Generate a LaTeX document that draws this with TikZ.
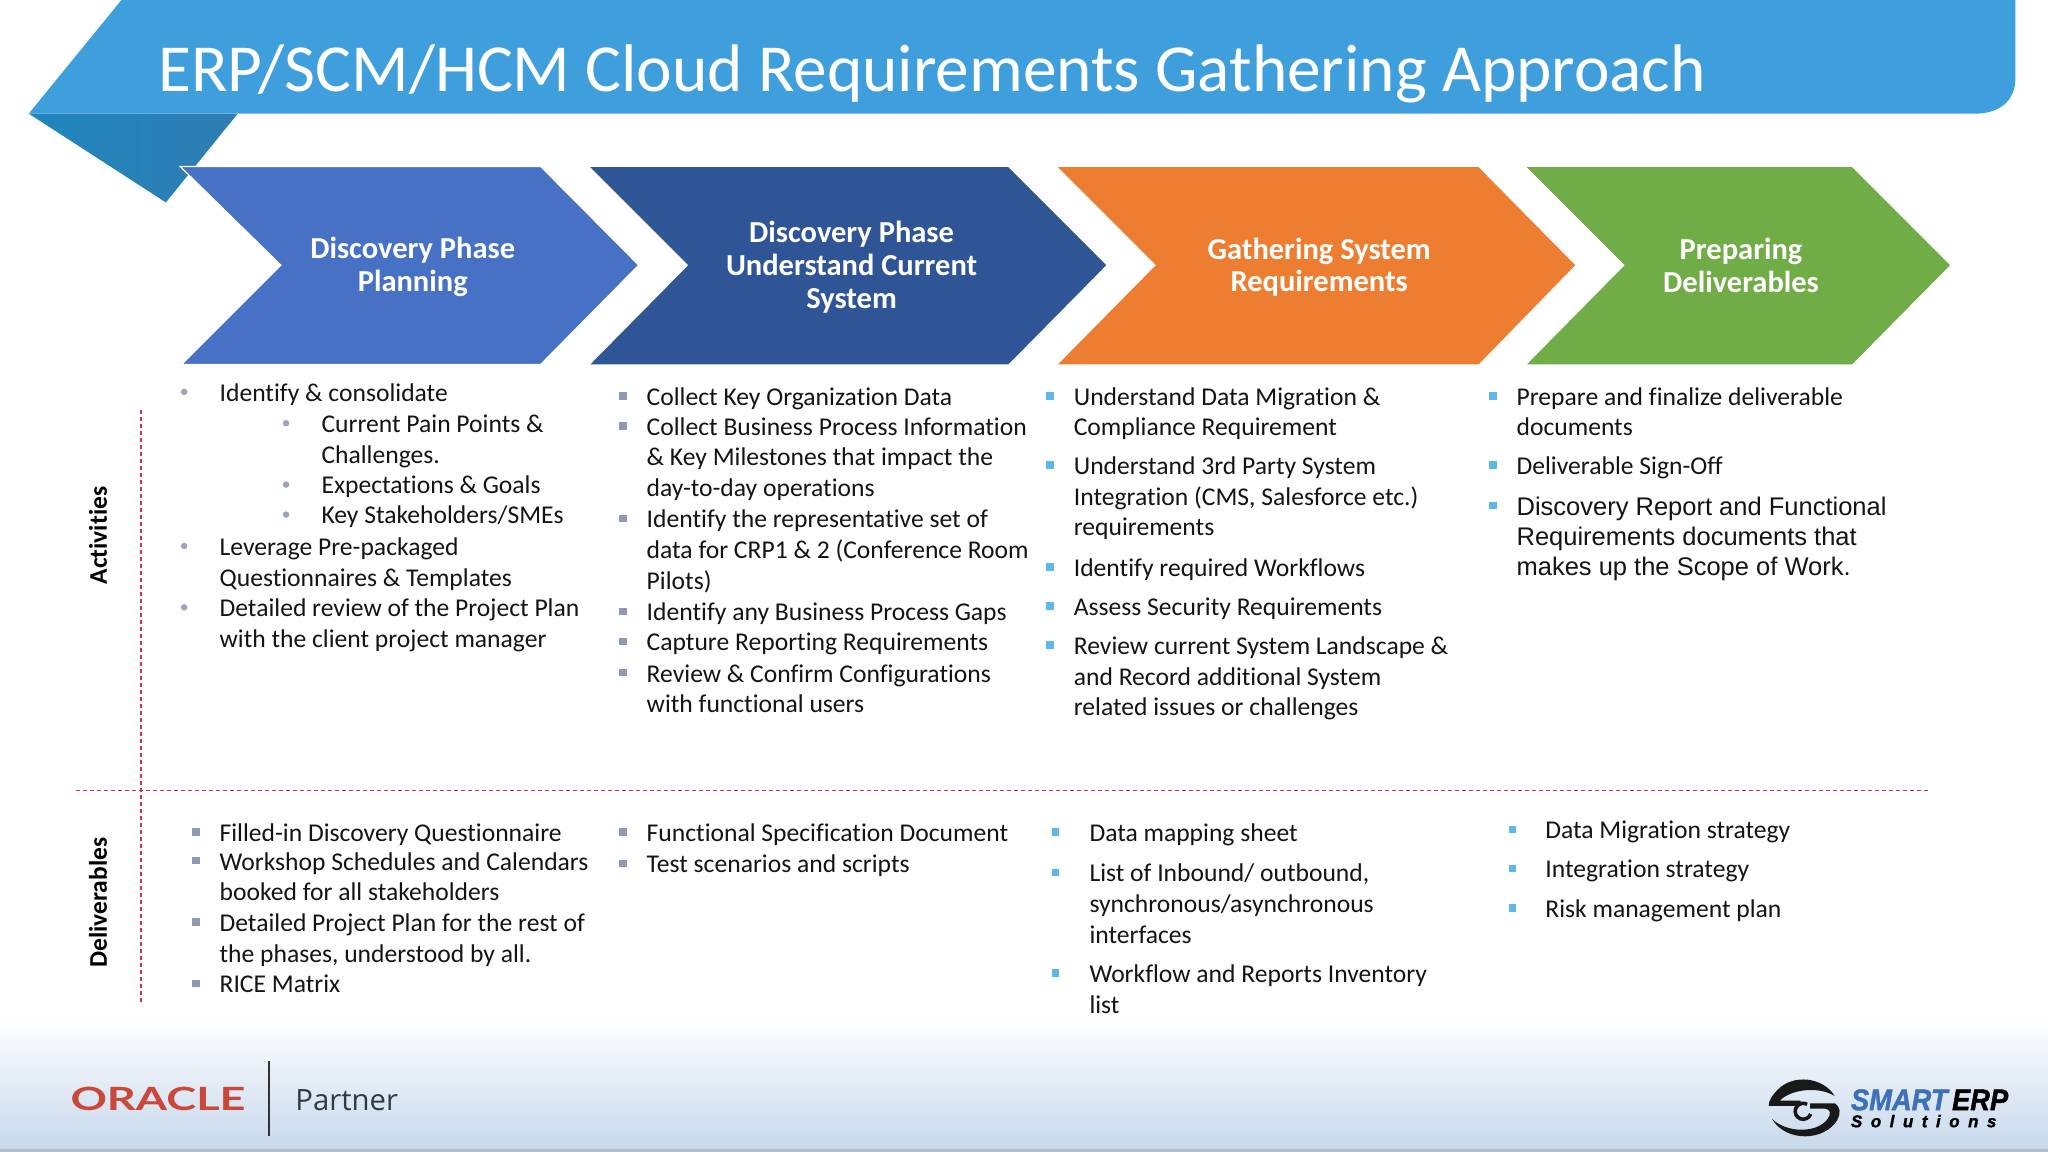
\documentclass[tikz,border=0pt]{standalone}
\usepackage{fontspec}
\setmainfont[Ligatures=NoCommon]{Carlito}
\newfontfamily\arialfont{Liberation Sans}
\newfontfamily\logofont[BoldItalicFeatures={FakeBold=1.5}]{Liberation Sans}
\newfontfamily\partnerfont{Open Sans}
\newfontfamily\oraclefont{Lato}
\newfontfamily\solfont[LetterSpace=50,BoldItalicFeatures={FakeBold=1.5}]{Liberation Sans}
\usetikzlibrary{calc}
\definecolor{ribbon}{HTML}{3F9FDD}
\definecolor{foldA}{HTML}{1F86BE}
\definecolor{foldB}{HTML}{2F7DB2}
\definecolor{chA}{HTML}{4771C4}
\definecolor{chB}{HTML}{2F5597}
\definecolor{chC}{HTML}{ED7D31}
\definecolor{chD}{HTML}{70AD47}
\definecolor{redline}{HTML}{C43A4A}
\definecolor{dotgrey}{HTML}{9CA3BC}
\definecolor{sqgrey}{HTML}{8F99B3}
\definecolor{sqblue}{HTML}{5DB9EC}
\definecolor{bodytext}{HTML}{141414}
\definecolor{footblue}{HTML}{C7D8EC}
\definecolor{oraclered}{HTML}{C9483A}
\definecolor{smartblue}{HTML}{3C70B8}
\definecolor{partnerink}{HTML}{2E3A46}
\tikzset{
  chevlabel/.style={text=white,font=\fontsize{30.5}{32.8}\selectfont\bfseries,align=center,inner sep=0pt,
     execute at begin node={\spaceskip=0pt\xspaceskip=0pt\relax}},
  itemtext/.style={anchor=north west,inner sep=0pt,yshift=20pt,text=bodytext,text width=500pt,align=left,
     font=\fontsize{25.6}{30.7}\selectfont,execute at begin node={\spaceskip=0pt\xspaceskip=0pt\relax\rule{0pt}{20pt}}},
  dotb/.style={circle,fill=dotgrey,inner sep=0pt,minimum size=6.5pt},
  sqb/.style={rectangle,fill=sqgrey,inner sep=0pt,minimum size=7.5pt},
  sqbl/.style={rectangle,fill=sqblue,inner sep=0pt,minimum size=7.5pt},
  sidelabel/.style={rotate=90,font=\fontsize{25.5}{30}\selectfont\bfseries,text=black,inner sep=0pt},
  redrule/.style={draw=redline,line width=1.2pt,dash pattern=on 4pt off 3pt},
}
\newcommand{\bitem}[6]{%
  \node[#2] (#1b) at (#3,{#5-7}) {};
  \node[itemtext] (#1) at (#4,#5) {#6};
}
\begin{document}
\begin{tikzpicture}[x=1.30612pt,y=-1.30612pt]
\useasboundingbox (0,0) rectangle (1568,882);
\fill[white] (0,0) rectangle (1568,882);
% footer
\shade[top color=white,bottom color=footblue] (0,780) rectangle (1568,880);
\fill[footblue!70!gray] (0,880) rectangle (1568,882);
% ribbon
\shade[left color=foldA,right color=foldB] (22,87) -- (182,87) -- (127,155) -- cycle;
\fill[ribbon] (93,0) -- (1543,0) -- (1543,60) .. controls (1543,78) and (1530,87) .. (1512,87) -- (22,87) -- cycle;
\node[anchor=base west,inner sep=0pt,text=white,font=\fontsize{67.3}{80}\selectfont] (title) at (121,70) {ERP/SCM/HCM Cloud Requirements Gathering Approach};
% chevrons
\filldraw[fill=chA,draw=white,line width=1.2pt] (138,127.5) -- (414,127.5) -- (489,203) -- (414,279) -- (139,279) -- (215,203) -- cycle;
\fill[chB] (452,128) -- (772,128) -- (847,203) -- (772,279) -- (452,279) -- (527,203) -- cycle;
\fill[chC] (810,128) -- (1132,128) -- (1206,203) -- (1132,279) -- (810,279) -- (885,203) -- cycle;
\fill[chD] (1169,128) -- (1418,128) -- (1493,203) -- (1418,279) -- (1169,279) -- (1244,203) -- cycle;
\node[chevlabel] (c1) at (316,204.5) {Discovery Phase\\Planning};
\node[chevlabel] (c2) at (652,204.5) {Discovery Phase\\Understand Current\\System};
\node[chevlabel] (c3) at (1010,204.5) {Gathering System\\Requirements};
\node[chevlabel] (c4) at (1333,203.5) {Preparing\\Deliverables};
% rules
\coordinate (vt) at (108,314); \coordinate (vb) at (108,768);
\coordinate (hl) at (58,605); \coordinate (hr) at (1478,605);
\draw[redrule] (vt) -- (vb);
\draw[redrule] (hl) -- (hr);
\node[sidelabel] (lact) at (75,410) {Activities};
\node[sidelabel] (ldel) at (75,691) {Deliverables};
% activities col 1
\bitem{a1}{dotb}{141}{168}{307}{Identify \& consolidate}
\bitem{a2}{dotb}{219}{246}{331}{Current Pain Points \&\\Challenges.}
\bitem{a3}{dotb}{219}{246}{378}{Expectations \& Goals}
\bitem{a4}{dotb}{219}{246}{401}{Key Stakeholders/SMEs}
\bitem{a5}{dotb}{141}{168}{425}{Leverage Pre-packaged\\Questionnaires \& Templates}
\bitem{a6}{dotb}{141}{168}{472}{Detailed review of the Project Plan\\with the client project manager}
% activities col 2
\bitem{b1}{sqb}{477}{495}{310}{Collect Key Organization Data}
\bitem{b2}{sqb}{477}{495}{333}{Collect Business Process Information\\\& Key Milestones that impact the\\day-to-day operations}
\bitem{b3}{sqb}{477}{495}{404}{Identify the representative set of\\data for CRP1 \& 2 (Conference Room\\Pilots)}
\bitem{b4}{sqb}{477}{495}{475}{Identify any Business Process Gaps}
\bitem{b5}{sqb}{477}{495}{498}{Capture Reporting Requirements}
\bitem{b6}{sqb}{477}{495}{522}{Review \& Confirm Configurations\\with functional users}
% activities col 3
\bitem{d1}{sqbl}{804}{822}{310}{Understand Data Migration \&\\Compliance Requirement}
\bitem{d2}{sqbl}{804}{822}{363}{Understand 3rd Party System\\Integration (CMS, Salesforce etc.)\\requirements}
\bitem{d3}{sqbl}{804}{822}{441}{Identify required Workflows}
\bitem{d4}{sqbl}{804}{822}{471}{Assess Security Requirements}
\bitem{d5}{sqbl}{804}{822}{501}{Review current System Landscape \&\\and Record additional System\\related issues or challenges}
% activities col 4
\bitem{e1}{sqbl}{1143}{1161}{310}{Prepare and finalize deliverable\\documents}
\bitem{e2}{sqbl}{1143}{1161}{363}{Deliverable Sign-Off}
\node[sqbl] (e3b) at (1143,387) {};
\node[itemtext,font=\arialfont\fontsize{25.5}{30.2}\selectfont] (e3) at (1161,394.5) {Discovery Report and Functional\\Requirements documents that\\makes up the Scope of Work.};
% deliverables
\bitem{f1}{sqb}{150}{168}{644}{Filled-in Discovery Questionnaire}
\bitem{f2}{sqb}{150}{168}{666}{Workshop Schedules and Calendars\\booked for all stakeholders}
\bitem{f3}{sqb}{150}{168}{713}{Detailed Project Plan for the rest of\\the phases, understood by all.}
\bitem{f4}{sqb}{150}{168}{760}{RICE Matrix}
\bitem{g1}{sqb}{477}{495}{644}{Functional Specification Document}
\bitem{g2}{sqb}{477}{495}{668}{Test scenarios and scripts}
\bitem{h1}{sqbl}{808}{834}{644}{Data mapping sheet}
\bitem{h2}{sqbl}{808}{834}{675}{List of Inbound/ outbound,\\synchronous/asynchronous\\interfaces}
\bitem{h3}{sqbl}{808}{834}{752}{Workflow and Reports Inventory\\list}
\bitem{i1}{sqbl}{1158}{1183}{642}{Data Migration strategy}
\bitem{i2}{sqbl}{1158}{1183}{672}{Integration strategy}
\bitem{i3}{sqbl}{1158}{1183}{702}{Risk management plan}
% oracle partner
\node[anchor=base,inner sep=0pt,text=oraclered] (oracle) at (121,850) {\scalebox{1.41}[1]{\oraclefont\bfseries\fontsize{32}{32}\selectfont ORACLE}};
\draw[line width=2.2pt,color=black!80] (206,812) -- (206,870);
\node[anchor=base west,inner sep=0pt,text=partnerink,font=\partnerfont\fontsize{29.3}{36}\selectfont] (partner) at (226,850) {Partner};
% smart erp logo
\node[anchor=base west,inner sep=0pt] (smart) at (1417,850) {\scalebox{0.91}[1]{\logofont\bfseries\itshape\fontsize{30}{30}\selectfont\textcolor{smartblue}{SMART}\,\textcolor{black}{ERP}}};
\node[anchor=base west,inner sep=0pt] (sol) at (1417,863) {\solfont\bfseries\itshape\fontsize{17}{17}\selectfont Solutions};
\begin{scope}[shift={(1347.5,819.2)},x=0.3333pt,y=-0.3333pt]
\fill[black!90] (224,78) .. controls (190,22) and (100,10) .. (52,60) .. controls (38,75) and (26,90) .. (26,108) -- (122,108) -- (122,92) -- (60,92) .. controls (85,62) and (170,45) .. (224,78) -- cycle;
\fill[black!90] (35,146) .. controls (80,220) and (195,212) .. (232,150) .. controls (242,132) and (242,110) .. (225,100) -- (150,100) -- (150,116) -- (196,116) .. controls (212,118) and (214,132) .. (202,148) .. controls (170,190) and (80,190) .. (35,146) -- cycle;
\draw[black!90,line width=3.6pt] (152,132) arc (20:300:24);
\end{scope}
\end{tikzpicture}
\end{document}
